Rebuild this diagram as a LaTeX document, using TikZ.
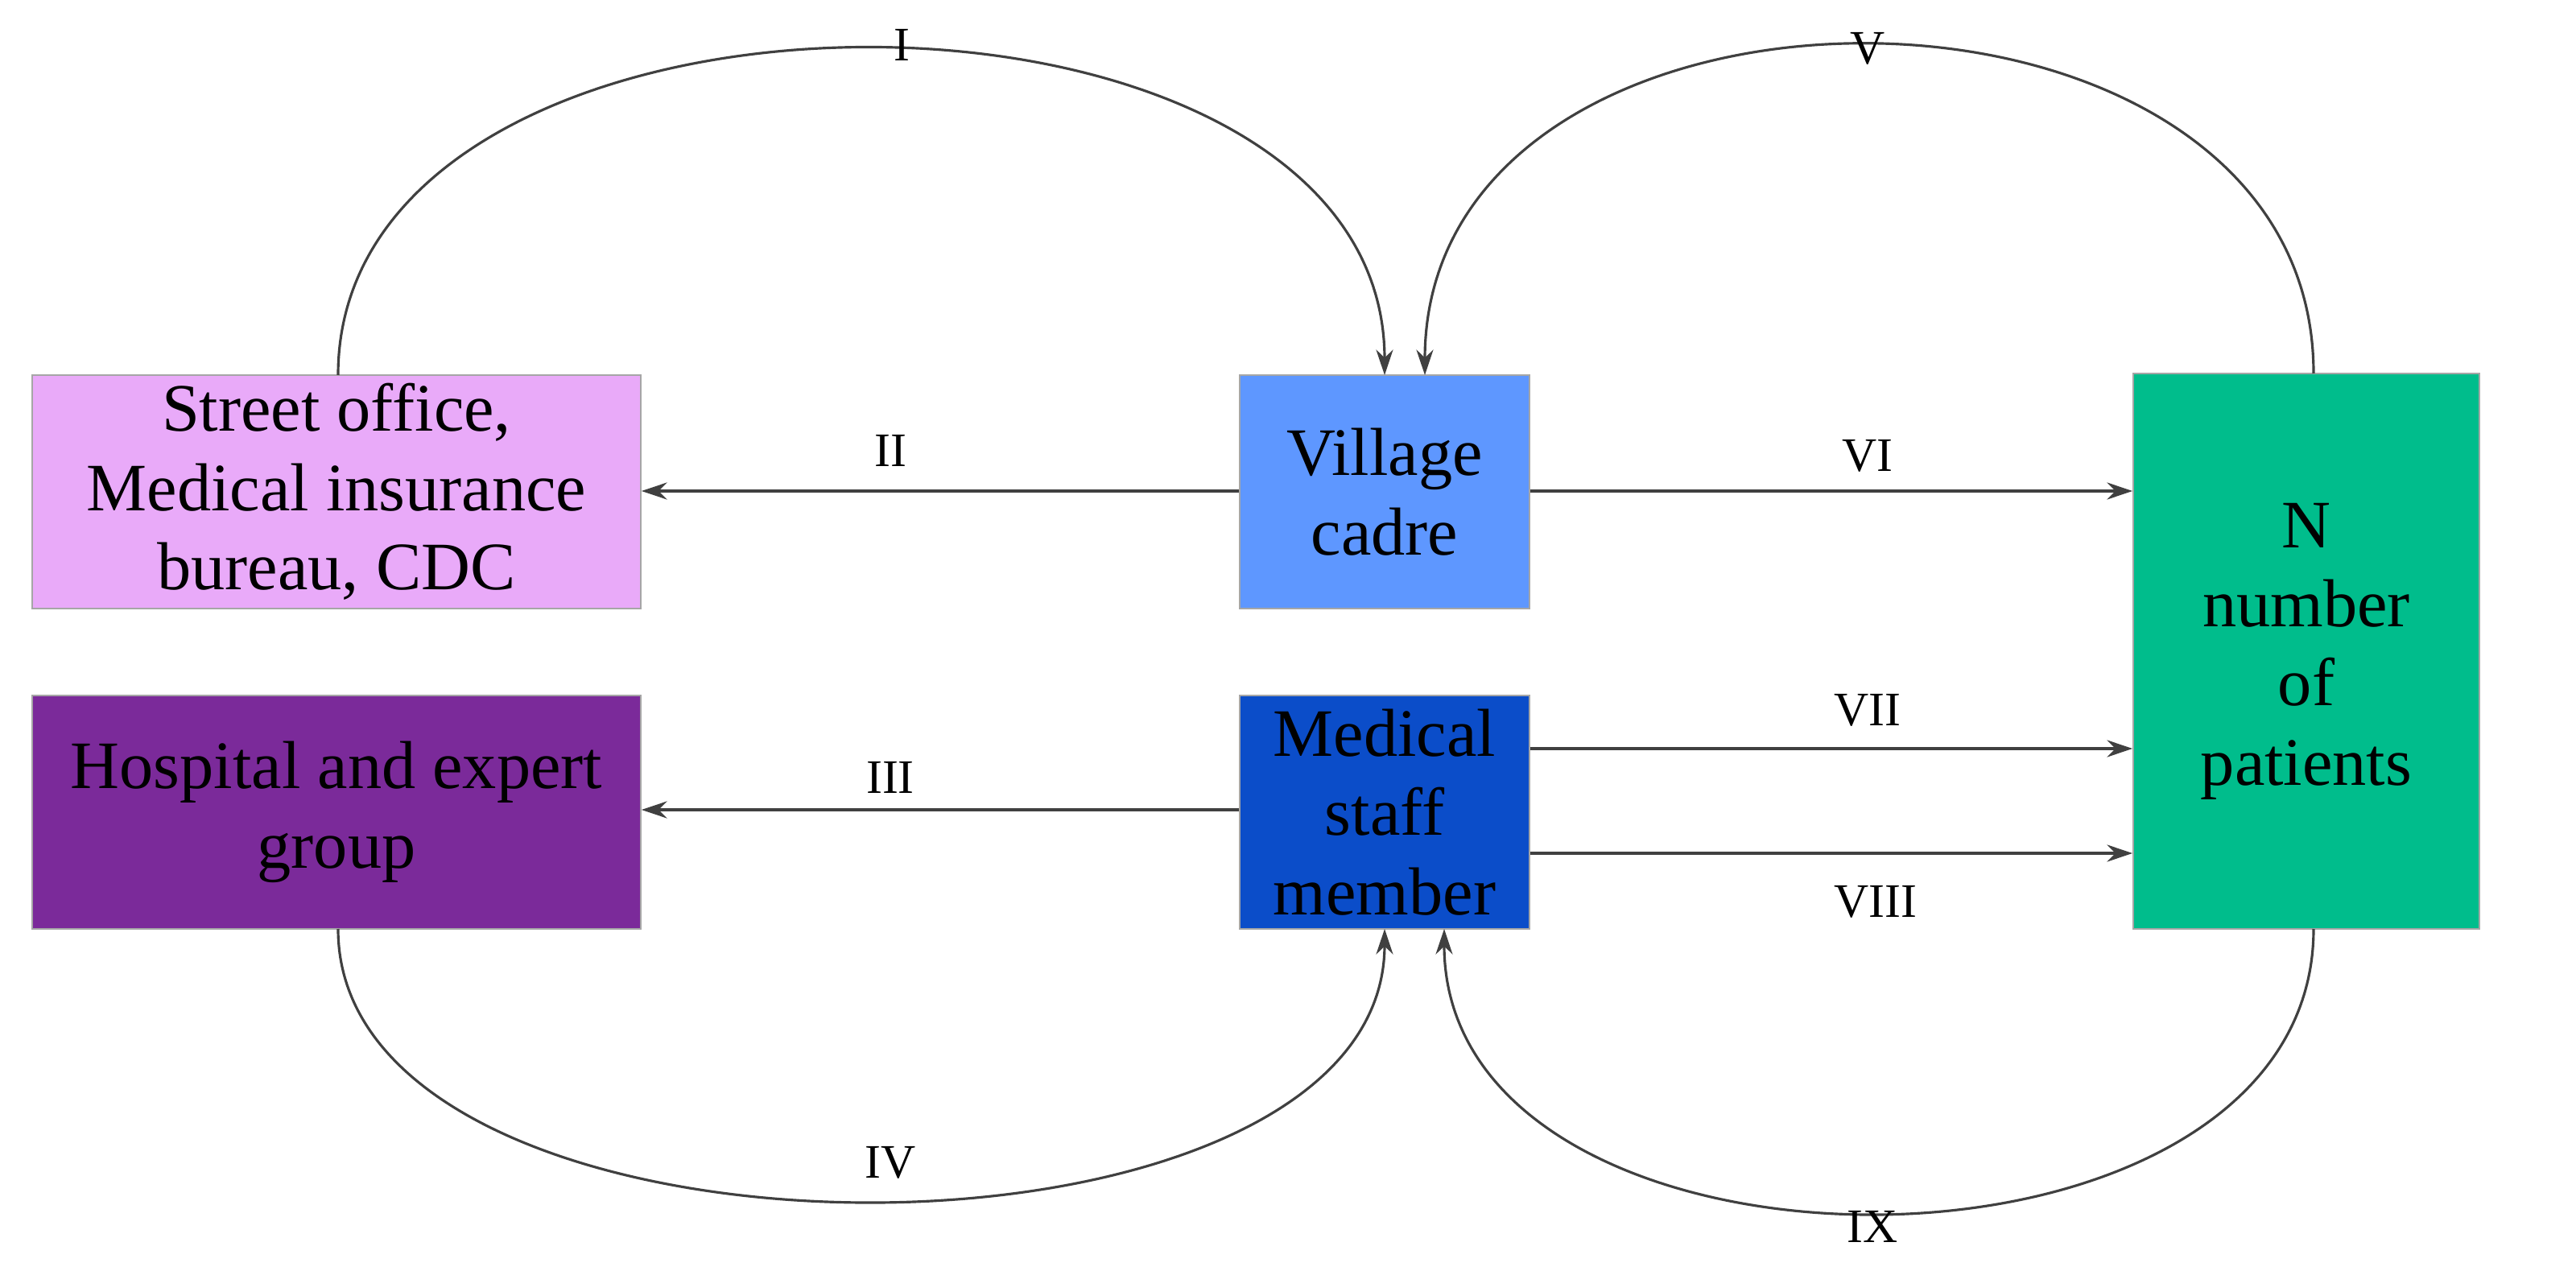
\documentclass[tikz,border=0pt]{standalone}
\usepackage{fontspec}
\setmainfont{Liberation Serif}
\usetikzlibrary{arrows.meta}
\definecolor{cpink}{HTML}{E9AAF9}
\definecolor{cpurple}{HTML}{7B2A9A}
\definecolor{clblue}{HTML}{5E97FF}
\definecolor{cdblue}{HTML}{0B4DC9}
\definecolor{cgreen}{HTML}{00BD8C}
\begin{document}
\begin{tikzpicture}[x=0.02cm,y=-0.02cm,
  box/.style={draw=gray!70,line width=0.5pt,inner sep=0pt,align=center,font=\fontsize{24}{28}\selectfont},
  conn/.style={draw=black!75,line width=0.9pt,-{Stealth[length=9pt,width=6pt]}},
  lab/.style={font=\fontsize{17}{20}\selectfont}]
\useasboundingbox (0,0) rectangle (1600,787);
\node[box,fill=cpink,minimum width=378*0.02cm,minimum height=145*0.02cm] (street) at (209,305.5) {Street office,\\Medical insurance\\bureau, CDC};
\node[box,fill=cpurple,minimum width=378*0.02cm,minimum height=145*0.02cm] (hosp) at (209,504.5) {Hospital and expert\\group};
\node[box,fill=clblue,minimum width=180*0.02cm,minimum height=145*0.02cm] (village) at (860,305.5) {Village\\cadre};
\node[box,fill=cdblue,minimum width=180*0.02cm,minimum height=145*0.02cm] (staff) at (860,504.5) {Medical\\staff\\member};
\node[box,fill=cgreen,minimum width=215*0.02cm,minimum height=345*0.02cm] (pat) at (1432.5,404.5) {N\\number\\of\\patients};
\coordinate (sTop) at (210,233);
\coordinate (vTop1) at (860,233);
\coordinate (vTop2) at (885,233);
\coordinate (pTop) at (1437,232);
\coordinate (hBot) at (210,577);
\coordinate (mBot1) at (860,577);
\coordinate (mBot2) at (897,577);
\coordinate (pBot) at (1437,577);
\draw[conn] (sTop) .. controls (210,-37) and (860,-37) .. (vTop1);
\draw[conn] (pTop) .. controls (1437,-40) and (885,-40) .. (vTop2);
\draw[conn] (hBot) .. controls (210,802) and (860,802) .. (mBot1);
\draw[conn] (pBot) .. controls (1437,812) and (897,812) .. (mBot2);
\draw[conn] (village.west |- 0,305) -- (street.east |- 0,305);
\draw[conn] (village.east |- 0,305) -- (pat.west |- 0,305);
\draw[conn] (staff.west |- 0,503) -- (hosp.east |- 0,503);
\draw[conn] (staff.east |- 0,465) -- (pat.west |- 0,465);
\draw[conn] (staff.east |- 0,530) -- (pat.west |- 0,530);
\node[lab] (l1) at (560,28) {I};
\node[lab] (l5) at (1160,30) {V};
\node[lab] (l2) at (553,280) {II};
\node[lab] (l6) at (1160,283) {VI};
\node[lab] (l3) at (553,483) {III};
\node[lab] (l7) at (1160,441) {VII};
\node[lab] (l8) at (1165,560) {VIII};
\node[lab] (l4) at (553,722) {IV};
\node[lab] (l9) at (1163,762) {IX};
\end{tikzpicture}
\end{document}
